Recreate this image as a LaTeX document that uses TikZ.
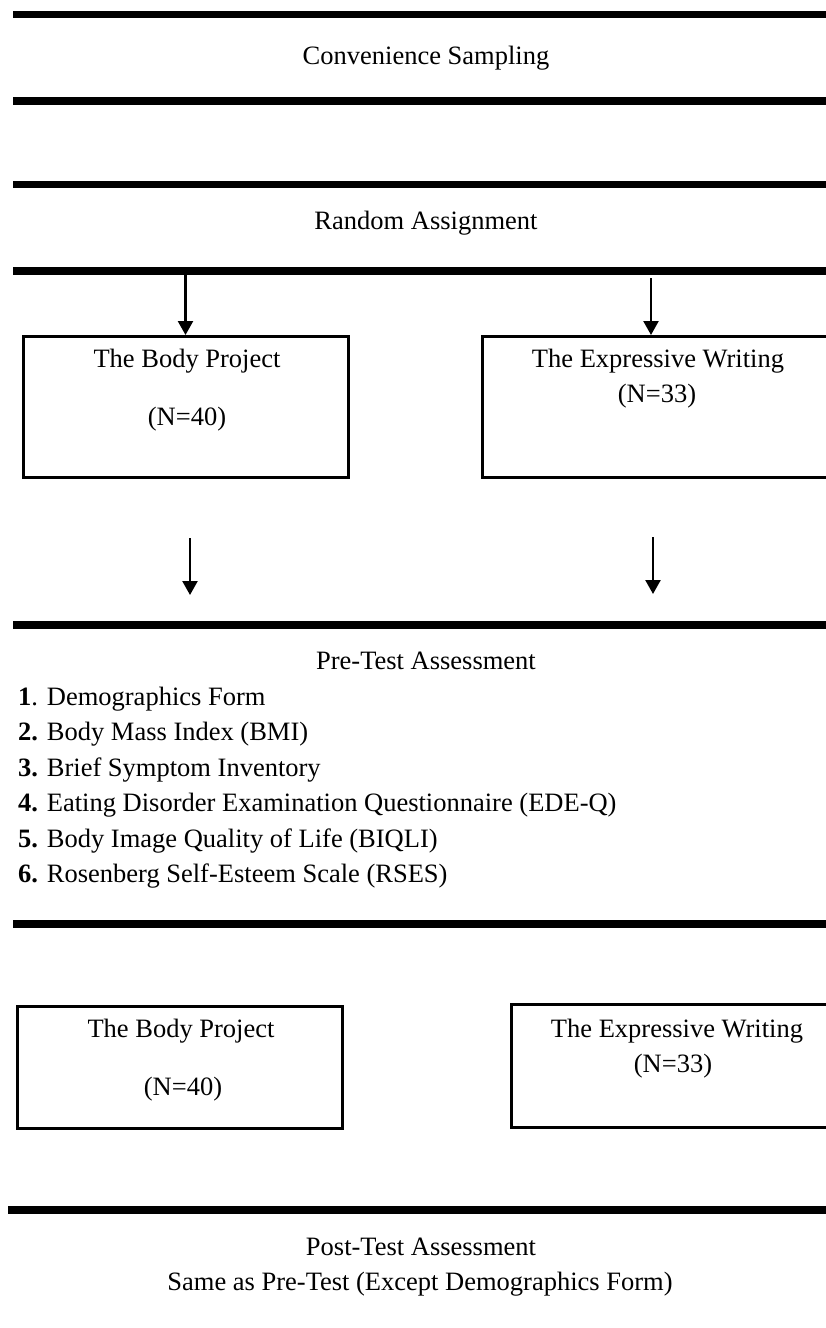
\documentclass[tikz,border=0pt]{standalone}
\usepackage{fontspec}
\setmainfont{Liberation Serif}
\usetikzlibrary{arrows.meta}
\begin{document}
\begin{tikzpicture}[x=1pt,y=-1pt,
  bar/.style={line width=7.5pt},
  boxl/.style={draw, line width=3pt, rectangle, inner sep=0pt, anchor=north west},
  arr/.style={line width=2.4pt, -{Triangle[width=15pt,length=14pt]}},
  txt/.style={inner sep=0pt, font=\fontsize{26.5}{32}\selectfont, text height=0.7em, text depth=0.2em},
  item/.style={txt, anchor=west},
]
\clip (0,0) rectangle (826,1328);
\fill[white] (0,0) rectangle (826,1328);

% bars
\coordinate (b1) at (13,14.5);
\coordinate (b2) at (13,101);
\coordinate (b3) at (13,184.5);
\coordinate (b4) at (13,271);
\coordinate (b5) at (13,625);
\coordinate (b6) at (13,924);
\coordinate (b7) at (8,1210);
\foreach \b in {b1,b2,b3,b4,b5,b6,b7} \draw[bar] (\b) -- ++(840,0);

% titles
\node[txt] (conv) at (426,62) {Convenience Sampling};
\node[txt] (rand) at (426,227) {Random Assignment};

% first boxes
\node[boxl, minimum width=325pt, minimum height=141pt] (bpA) at (22,335) {};
\node[boxl, minimum width=370pt, minimum height=141pt] (ewA) at (480.5,335) {};
\node[txt] (bpAt) at (187,365) {The Body Project};
\node[txt] (bpAn) at (187,423) {(N=40)};
\node[txt] (ewAt) at (658,365) {The Expressive Writing};
\node[txt] (ewAn) at (657,400) {(N=33)};

% arrows from random assignment
\coordinate (aL) at (185.5,275);
\coordinate (aR) at (651,278);
\draw[arr] (aL) -- (aL |- bpA.north);
\draw[arr] (aR) -- (aR |- ewA.north);

% arrows to pre-test
\coordinate (cLs) at (190,538);
\coordinate (cLe) at (190,595);
\coordinate (cRs) at (653,537);
\coordinate (cRe) at (653,594);
\draw[arr] (cLs) -- (cLe);
\draw[arr] (cRs) -- (cRe);

% pre-test
\node[txt] (pre) at (426,667) {Pre-Test Assessment};
\node[item] (i1) at (18,703) {\textbf{1}. Demographics Form};
\node[item] (i2) at (18,738.4) {\textbf{2.} Body Mass Index (BMI)};
\node[item] (i3) at (18,773.8) {\textbf{3.} Brief Symptom Inventory};
\node[item] (i4) at (18,809.2) {\textbf{4.} Eating Disorder Examination Questionnaire (EDE-Q)};
\node[item] (i5) at (18,844.6) {\textbf{5.} Body Image Quality of Life (BIQLI)};
\node[item] (i6) at (18,880) {\textbf{6.} Rosenberg Self-Esteem Scale (RSES)};

% second boxes
\node[boxl, minimum width=325pt, minimum height=122pt] (bpB) at (16,1005) {};
\node[boxl, minimum width=340pt, minimum height=123pt] (ewB) at (510,1003) {};
\node[txt] (bpBt) at (181,1035) {The Body Project};
\node[txt] (bpBn) at (183,1093) {(N=40)};
\node[txt] (ewBt) at (677,1035) {The Expressive Writing};
\node[txt] (ewBn) at (673,1070) {(N=33)};

% post-test
\node[txt] (post) at (421,1253) {Post-Test Assessment};
\node[txt] (same) at (420,1288) {Same as Pre-Test (Except Demographics Form)};
\end{tikzpicture}
\end{document}
